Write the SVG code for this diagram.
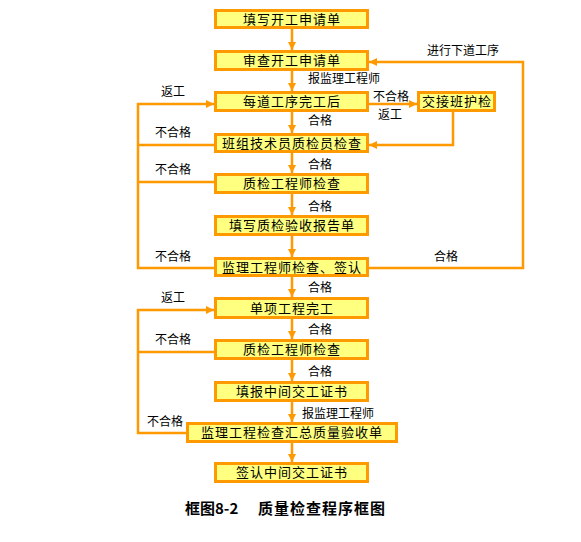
<svg xmlns="http://www.w3.org/2000/svg" width="581" height="542" viewBox="0 0 581 542">
<style>
.box{fill:#FFFF80;stroke:#FF9900;stroke-width:3}
.bt{font-family:"Noto Sans CJK SC","Liberation Sans",sans-serif;font-size:13px;letter-spacing:1px;fill:#000;text-anchor:middle}
.lb{font-family:"Noto Sans CJK SC","Liberation Sans",sans-serif;font-size:12px;fill:#000}
.ln{fill:none;stroke:#FF9900;stroke-width:2.5}
.cap{font-family:"Noto Sans CJK SC","Liberation Serif",serif;font-size:15px;font-weight:bold;fill:#000}
</style>
<defs>
<marker id="ah" markerUnits="userSpaceOnUse" markerWidth="9" markerHeight="9" refX="8" refY="4" orient="auto">
<path d="M0,0 L8,4 L0,8 z" fill="#FF9900"/>
</marker>
</defs>
<rect width="581" height="542" fill="#fff"/>
<g id="connectors">
<line class="ln" x1="292" y1="29" x2="292" y2="50" marker-end="url(#ah)"/>
<line class="ln" x1="292" y1="71" x2="292" y2="91" marker-end="url(#ah)"/>
<line class="ln" x1="292" y1="112" x2="292" y2="133" marker-end="url(#ah)"/>
<line class="ln" x1="292" y1="153" x2="292" y2="173" marker-end="url(#ah)"/>
<line class="ln" x1="292" y1="194" x2="292" y2="215" marker-end="url(#ah)"/>
<line class="ln" x1="292" y1="236" x2="292" y2="257" marker-end="url(#ah)"/>
<line class="ln" x1="292" y1="277" x2="292" y2="297" marker-end="url(#ah)"/>
<line class="ln" x1="292" y1="319" x2="292" y2="339" marker-end="url(#ah)"/>
<line class="ln" x1="292" y1="360" x2="292" y2="381" marker-end="url(#ah)"/>
<line class="ln" x1="292" y1="402" x2="292" y2="422" marker-end="url(#ah)"/>
<line class="ln" x1="292" y1="443" x2="292" y2="462" marker-end="url(#ah)"/>
<polyline class="ln" points="369,268 523,268 523,62 369,62" marker-end="url(#ah)"/>
<line class="ln" x1="369" y1="104" x2="417" y2="104" marker-end="url(#ah)"/>
<polyline class="ln" points="453,112 453,145 369,145" marker-end="url(#ah)"/>
<polyline class="ln" points="214,268 138,268 138,104 214,104" marker-end="url(#ah)"/>
<line class="ln" x1="214" y1="145" x2="138" y2="145"/>
<line class="ln" x1="214" y1="182" x2="138" y2="182"/>
<polyline class="ln" points="186,433 138,433 138,310 214,310" marker-end="url(#ah)"/>
<line class="ln" x1="214" y1="352" x2="138" y2="352"/>
</g>
<g id="n1"><rect class="box" x="215.5" y="10.5" width="152" height="17"/><text class="bt" x="292" y="24">填写开工申请单</text></g>
<g id="n2"><rect class="box" x="215.5" y="51.5" width="152" height="18"/><text class="bt" x="292" y="65">审查开工申请单</text></g>
<g id="n3"><rect class="box" x="215.5" y="92.5" width="152" height="18"/><text class="bt" x="292" y="106">每道工序完工后</text></g>
<g id="n4"><rect class="box" x="215.5" y="134.5" width="152" height="17"/><text class="bt" x="292" y="148">班组技术员质检员检查</text></g>
<g id="n5"><rect class="box" x="215.5" y="174.5" width="152" height="18"/><text class="bt" x="292" y="188">质检工程师检查</text></g>
<g id="n6"><rect class="box" x="215.5" y="216.5" width="152" height="18"/><text class="bt" x="292" y="230">填写质检验收报告单</text></g>
<g id="n7"><rect class="box" x="215.5" y="258.5" width="152" height="17"/><text class="bt" x="292" y="272">监理工程师检查、签认</text></g>
<g id="n8"><rect class="box" x="215.5" y="298.5" width="152" height="19"/><text class="bt" x="292" y="313">单项工程完工</text></g>
<g id="n9"><rect class="box" x="215.5" y="340.5" width="152" height="18"/><text class="bt" x="292" y="354">质检工程师检查</text></g>
<g id="n10"><rect class="box" x="215.5" y="382.5" width="152" height="18"/><text class="bt" x="292" y="396">填报中间交工证书</text></g>
<g id="n11"><rect class="box" x="187.5" y="423.5" width="209" height="18"/><text class="bt" x="292" y="437">监理工程检查汇总质量验收单</text></g>
<g id="n12"><rect class="box" x="215.5" y="463.5" width="152" height="18"/><text class="bt" x="292" y="477">签认中间交工证书</text></g>
<g id="side"><rect class="box" x="418.5" y="92.5" width="76" height="18"/><text class="bt" x="457" y="106">交接班护检</text></g>
<g id="labels">
<text class="lb" x="308" y="83">报监理工程师</text>
<text class="lb" x="161" y="96">返工</text>
<text class="lb" x="155" y="137">不合格</text>
<text class="lb" x="373" y="101">不合格</text>
<text class="lb" x="378" y="119">返工</text>
<text class="lb" x="308" y="125">合格</text>
<text class="lb" x="427" y="55">进行下道工序</text>
<text class="lb" x="155" y="174">不合格</text>
<text class="lb" x="308" y="169">合格</text>
<text class="lb" x="308" y="211">合格</text>
<text class="lb" x="155" y="261">不合格</text>
<text class="lb" x="434" y="261">合格</text>
<text class="lb" x="308" y="292">合格</text>
<text class="lb" x="161" y="302">返工</text>
<text class="lb" x="308" y="334">合格</text>
<text class="lb" x="155" y="344">不合格</text>
<text class="lb" x="308" y="376">合格</text>
<text class="lb" x="302" y="418">报监理工程师</text>
<text class="lb" x="147" y="426">不合格</text>
</g>
<text class="cap" x="185" y="514">框图8-2<tspan x="258" letter-spacing="1">质量检查程序框图</tspan></text>
</svg>
